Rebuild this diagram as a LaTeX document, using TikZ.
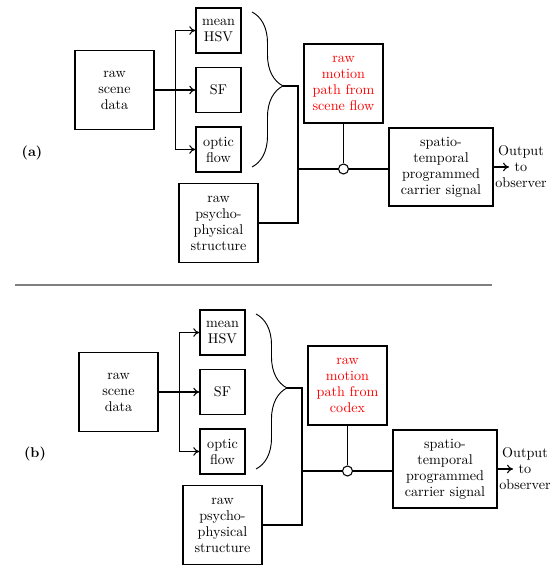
\documentclass[tikz,border=0pt]{standalone}
\usetikzlibrary{arrows.meta,decorations.pathreplacing}
\tikzset{
  block/.style={draw,line width=1.1pt,align=center,inner sep=1pt,minimum width=59.25pt,minimum height=59pt},
  feat/.style={draw,line width=1.1pt,align=center,inner sep=1pt,minimum size=33.75pt},
  carrier/.style={block,minimum width=78pt,minimum height=58.5pt},
  joint/.style={draw,circle,fill=white,line width=0.8pt,inner sep=0pt,minimum size=7.5pt},
  bracket/.style={decorate,line width=0.7pt,decoration={brace,amplitude=23.25pt,aspect=0.477}},
}
\begin{document}
\begin{tikzpicture}[x=0.75pt,y=0.75pt,font=\fontsize{10.6}{12}\selectfont,
  line width=0.8pt,>={To[length=4.5pt,width=6.5pt]},
  grow'=right,level distance=78pt,sibling distance=44.6pt,
  edge from parent/.style={draw,->,line width=0.8pt},
  edge from parent path={(\tikzparentnode.east) -- ++(15.75pt,0) |- (\tikzchildnode.west)}]
\useasboundingbox (0,0) rectangle (560,576);

% (a)
\begin{scope}
\node[block] (sceneA) at (114.5,486) {raw\\scene\\data}
  child {node[feat] (hsvA) {mean\\HSV}}
  child {node[feat] (sfA) {SF}}
  child {node[feat] (opticA) {optic\\flow}};
\node[block] (psyA) at (218.5,353) {raw\\psycho-\\physical\\structure};
\node[block,text=red] (motionA) at (343.5,492.5) {raw\\motion\\path from\\scene flow};
\node[carrier] (carrierA) at (441,409) {spatio-\\temporal\\programmed\\carrier signal};
\node[align=center] (outA) at (521,409) {Output\\to\\observer};
\node[font=\fontsize{10.6}{12}\selectfont\bfseries] (labA) at (32,423) {(a)};
\coordinate (tipA) at (283,490);
\coordinate (joinA) at (298,407);
\coordinate (endA) at (509,409);
\node[joint] (dotA) at (343.5,407) {};
\draw[bracket] (252,564) -- (252,409);
\draw (tipA) -| (joinA) |- (psyA.east);
\draw (joinA) -- (dotA) -- (joinA -| carrierA.west);
\draw (motionA) -- (dotA);
\draw[->] (carrierA.east) -- (endA);
\end{scope}

\draw[black!50,line width=1pt] (15,291) -- (492,291);

% (b)
\begin{scope}[shift={(4,-302)}]
\node[block] (sceneB) at (114.5,486) {raw\\scene\\data}
  child {node[feat] (hsvB) {mean\\HSV}}
  child {node[feat] (sfB) {SF}}
  child {node[feat] (opticB) {optic\\flow}};
\node[block] (psyB) at (218.5,353) {raw\\psycho-\\physical\\structure};
\node[block,text=red] (motionB) at (343.5,492.5) {raw\\motion\\path from\\codex};
\node[carrier] (carrierB) at (441,409) {spatio-\\temporal\\programmed\\carrier signal};
\node[align=center] (outB) at (521,409) {Output\\to\\observer};
\node[font=\fontsize{10.6}{12}\selectfont\bfseries] (labB) at (31,424) {(b)};
\coordinate (tipB) at (283,490);
\coordinate (joinB) at (298,407);
\coordinate (endB) at (509,409);
\node[joint] (dotB) at (343.5,407) {};
\draw[bracket] (252,564) -- (252,409);
\draw (tipB) -| (joinB) |- (psyB.east);
\draw (joinB) -- (dotB) -- (joinB -| carrierB.west);
\draw (motionB) -- (dotB);
\draw[->] (carrierB.east) -- (endB);
\end{scope}
\end{tikzpicture}
\end{document}
